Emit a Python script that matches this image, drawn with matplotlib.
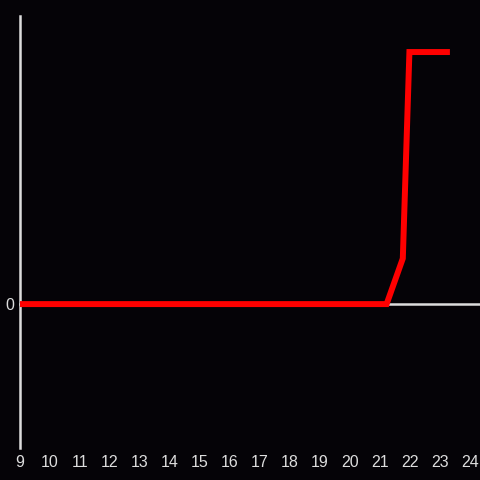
import matplotlib
matplotlib.use("Agg")
import matplotlib.pyplot as plt

x_vals = [9, 21.22, 21.76, 21.98, 23.33]
y_vals = [0, 0, 0.181, 1.0, 1.0]
x_ticks = list(range(9, 25))
y_ticks = [0]

bg = "#050307"
axis_col = "#dddddd"
text_col = "#dddddd"

fig = plt.figure(figsize=(4.8, 4.8), dpi=100, facecolor=bg)
ax = fig.add_axes([20/480, 32/480, 460/480, 432/480], facecolor=bg)

ax.plot(x_vals, y_vals, color="#ff0000", linewidth=4.3,
        solid_joinstyle="miter", solid_capstyle="butt", zorder=3)

ax.set_xlim(9, 24.333)
ax.set_ylim(-0.571, 1.143)

for s in ["top", "right"]:
    ax.spines[s].set_visible(False)
ax.spines["bottom"].set_position(("data", 0))
ax.spines["left"].set_color(axis_col)
ax.spines["bottom"].set_color(axis_col)
ax.spines["left"].set_linewidth(1.8)
ax.spines["bottom"].set_linewidth(1.8)

ax.set_xticks(x_ticks)
ax.set_xticklabels([str(t) for t in x_ticks])
ax.set_yticks(y_ticks)
ax.set_yticklabels(["0"])
ax.tick_params(axis="both", length=0, colors=text_col, labelsize=11.5)
ax.tick_params(axis="y", pad=4)
for lab in ax.get_xticklabels() + ax.get_yticklabels():
    lab.set_fontfamily("Liberation Sans")

# x tick labels at the bottom of the axes, not at the zero spine
ax.xaxis.set_ticks_position("bottom")
for t in ax.xaxis.get_major_ticks():
    t.label1.set_transform(ax.get_xaxis_transform() + matplotlib.transforms.ScaledTranslation(0, -5/72, fig.dpi_scale_trans))
    t.label1.set_y(0)

fig.savefig("out.png", dpi=100, facecolor=bg)
